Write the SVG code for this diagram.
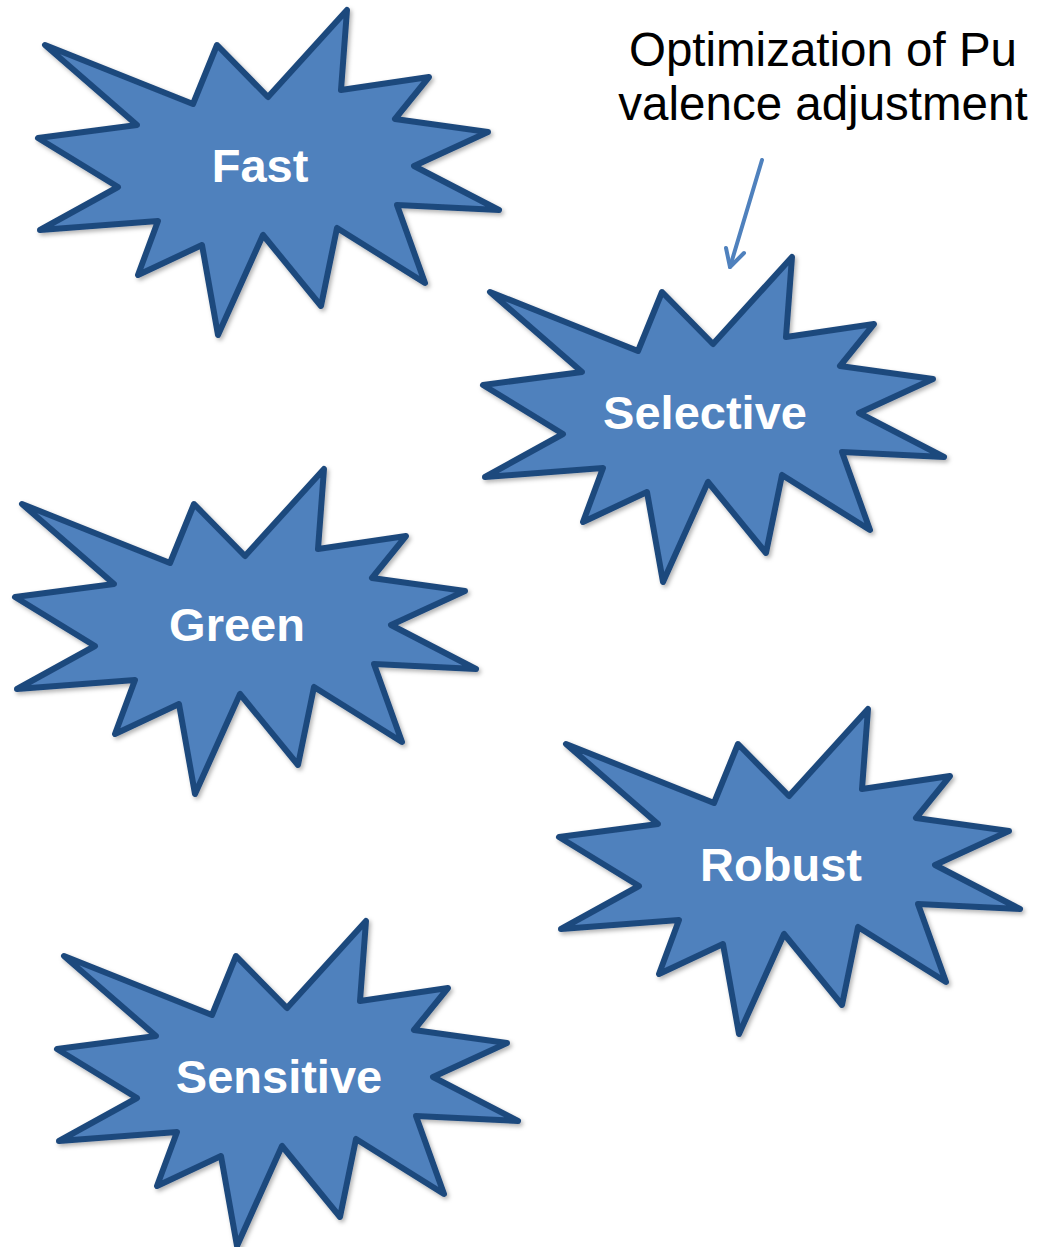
<svg xmlns="http://www.w3.org/2000/svg" xmlns:xlink="http://www.w3.org/1999/xlink" width="1045" height="1247" viewBox="0 0 1045 1247">
<style>
.star{fill:#4F81BD;stroke:#1F497D;stroke-width:6;stroke-linejoin:round;filter:url(#sh)}
.lbl{font-family:"Liberation Sans",Arial,sans-serif;font-weight:bold;font-size:47px;fill:#FFFFFF;text-anchor:middle}
.note{font-family:"Liberation Sans",Arial,sans-serif;font-size:47.5px;fill:#000000;text-anchor:middle}
.conn{stroke:#4F81BD;stroke-width:4;fill:none;stroke-linecap:round;stroke-linejoin:round}
</style>
<defs>
<filter id="sh" x="-10%" y="-10%" width="120%" height="120%">
<feDropShadow dx="2" dy="2.5" stdDeviation="2" flood-color="#000" flood-opacity="0.3"/>
</filter>
<polygon id="starShape" points="45,45 193,104 217,45 268,97 347,10 341,90 429,77 395,119 488,132 414,166 499,210 397,205 425,283 337,228 321,306 263,235 218,335 202,245 138,275 158,221 40,230 118,187 38,138 137,125"/>
</defs>
<rect width="1045" height="1247" fill="#FFFFFF"/>
<g id="fast">
<use xlink:href="#starShape" href="#starShape" class="star"/>
<text class="lbl" x="260" y="182">Fast</text>
</g>
<g id="selective" transform="translate(445,247)">
<use xlink:href="#starShape" href="#starShape" class="star"/>
<text class="lbl" x="260" y="182">Selective</text>
</g>
<g id="green" transform="translate(-23,459)">
<use xlink:href="#starShape" href="#starShape" class="star"/>
<text class="lbl" x="260" y="182">Green</text>
</g>
<g id="robust" transform="translate(521,699)">
<use xlink:href="#starShape" href="#starShape" class="star"/>
<text class="lbl" x="260" y="182">Robust</text>
</g>
<g id="sensitive" transform="translate(19,911)">
<use xlink:href="#starShape" href="#starShape" class="star"/>
<text class="lbl" x="260" y="182">Sensitive</text>
</g>
<g id="note">
<text class="note" x="823" y="66">Optimization of Pu</text>
<text class="note" x="823" y="120">valence adjustment</text>
</g>
<g id="connectors">
<path class="conn" d="M762,160 L730,267"/>
<path class="conn" d="M726,248 L730,267 L744,253"/>
</g>
</svg>
